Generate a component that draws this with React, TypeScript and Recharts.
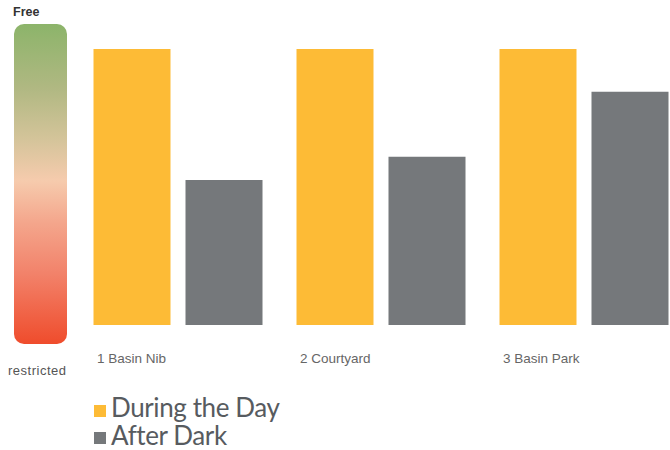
import React from "react";
import { BarChart, Bar, XAxis, YAxis } from "recharts";

const categories = ["1 Basin Nib", "2 Courtyard", "3 Basin Park"];
const duringTheDay = [100, 100, 100];
const afterDark = [52.5, 61, 84.5];
const seriesNames = ["During the Day", "After Dark"];
const seriesColors = ["#FDBB36", "#75787B"];
const scaleLabels = ["Free", "restricted"];

const data = categories.map((c, i) => ({
  name: c,
  day: duringTheDay[i],
  dark: afterDark[i],
}));

const CategoryTick = (props: any) => {
  const { x, y, payload } = props;
  return (
    <text
      x={x - 81}
      y={y + 30}
      textAnchor="start"
      fill="#666"
      fontSize={13.5}
      fontFamily="'Liberation Sans', Arial, sans-serif"
    >
      {payload.value}
    </text>
  );
};

export default function App() {
  return (
    <div
      style={{
        position: "absolute",
        left: 0,
        top: 0,
        width: 670,
        height: 450,
        overflow: "hidden",
        background: "#fff",
      }}
    >
      <div
        style={{
          position: "absolute",
          left: 14,
          top: 24,
          width: 53,
          height: 320,
          borderRadius: 10,
          background:
            "linear-gradient(to bottom, #8cb46a 0%, #b0b882 20%, #d4c49a 36%, #f6cbad 49%, #f4a68c 62%, #f2826a 78%, #ef4c2c 100%)",
        }}
      />
      <div
        style={{
          position: "absolute",
          left: 13,
          top: 6.4,
          fontSize: 12.5,
          lineHeight: 1,
          fontWeight: 700,
          color: "#333",
          fontFamily: "'Liberation Sans', Arial, sans-serif",
        }}
      >
        {scaleLabels[0]}
      </div>
      <div
        style={{
          position: "absolute",
          left: 8,
          top: 364,
          fontSize: 13,
          lineHeight: 1,
          letterSpacing: 0.5,
          color: "#555",
          fontFamily: "'Liberation Sans', Arial, sans-serif",
        }}
      >
        {scaleLabels[1]}
      </div>
      <div style={{ position: "absolute", left: 0, top: 0 }}>
        <BarChart
          width={700}
          height={450}
          data={data}
          margin={{ top: 49, right: 14.5, left: 76.5, bottom: 95 }}
          barGap={15}
          barSize={77}
        >
          <XAxis
            dataKey="name"
            axisLine={false}
            tickLine={false}
            tick={<CategoryTick />}
            interval={0}
            height={30}
          />
          <YAxis hide domain={[0, 100]} />
          <Bar dataKey="day" fill={seriesColors[0]} isAnimationActive={false} />
          <Bar dataKey="dark" fill={seriesColors[1]} isAnimationActive={false} />
        </BarChart>
      </div>
      <div
        style={{
          position: "absolute",
          left: 94,
          top: 393,
          width: 300,
          fontFamily: "Lato, sans-serif",
          color: "#575b5f",
        }}
      >
        {seriesNames.map((n, i) => (
          <div
            key={n}
            style={{ position: "relative", height: 28 }}
          >
            <span
              style={{
                position: "absolute",
                left: 0,
                top: i === 0 ? 12 : 11,
                width: 12,
                height: 12,
                background: seriesColors[i],
              }}
            />
            <span
              style={{
                position: "absolute",
                left: 17,
                top: 0,
                fontSize: 26,
                lineHeight: "28px",
                letterSpacing: -0.4,
                whiteSpace: "nowrap",
              }}
            >
              {n}
            </span>
          </div>
        ))}
      </div>
    </div>
  );
}
